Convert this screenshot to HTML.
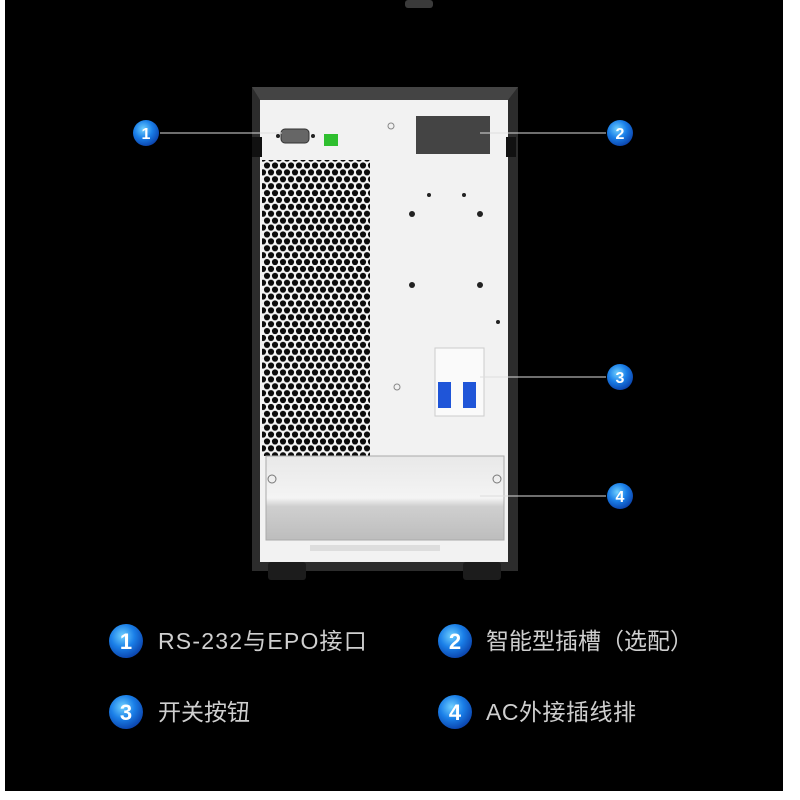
<!DOCTYPE html>
<html><head><meta charset="utf-8"><style>
body{margin:0;background:#fff;width:800px;height:800px;overflow:hidden;position:relative;font-family:"Liberation Sans","Noto Sans CJK SC",sans-serif}
.t{position:absolute;color:#cfcfcf;font-size:23px;line-height:30px}
</style></head><body>
<svg width="800" height="800" style="position:absolute;left:0;top:0">
<defs>
<pattern id="hex" width="8" height="13.8" patternUnits="userSpaceOnUse" x="263" y="162">
<circle cx="4" cy="3.45" r="3.1" fill="#0c0c0c"/><circle cx="0" cy="10.35" r="3.1" fill="#0c0c0c"/><circle cx="8" cy="10.35" r="3.1" fill="#0c0c0c"/>
</pattern>
<radialGradient id="bl" cx="0.4" cy="0.35" r="0.7"><stop offset="0" stop-color="#6fd0ff"/><stop offset="0.5" stop-color="#1a7fe8"/><stop offset="1" stop-color="#0a3fa8"/></radialGradient>
<linearGradient id="cov" x1="0" y1="0" x2="0" y2="1"><stop offset="0" stop-color="#e8e8e8"/><stop offset="0.5" stop-color="#f4f4f4"/><stop offset="0.6" stop-color="#cfcfcf"/><stop offset="1" stop-color="#bdbdbd"/></linearGradient>
</defs>
<rect x="5" y="0" width="778" height="791" fill="#000"/>
<rect x="405" y="0" width="28" height="8" rx="3" fill="#3a3a3a"/>
<rect x="252" y="87" width="266" height="484" fill="#2c2c2c"/>
<polygon points="252,87 518,87 508,100 260,100" fill="#444"/>
<rect x="260" y="100" width="248" height="462" fill="#f2f2f2"/>
<rect x="252" y="137" width="10" height="20" fill="#111"/>
<rect x="506" y="137" width="10" height="20" fill="#111"/>
<rect x="262" y="160" width="108" height="296" fill="#f5f5f5"/>
<rect x="262" y="160" width="108" height="296" fill="url(#hex)"/>
<rect x="281" y="129" width="28" height="14" rx="4" fill="#666" stroke="#333"/>
<circle cx="278" cy="136" r="2" fill="#222"/><circle cx="313" cy="136" r="2" fill="#222"/>
<rect x="324" y="134" width="14" height="12" fill="#2fbf2f"/>
<circle cx="391" cy="126" r="3" fill="none" stroke="#888"/>
<rect x="416" y="116" width="74" height="38" fill="#444"/>
<circle cx="429" cy="195" r="2" fill="#222"/><circle cx="464" cy="195" r="2" fill="#222"/>
<circle cx="412" cy="214" r="3" fill="#222"/><circle cx="480" cy="214" r="3" fill="#222"/>
<circle cx="412" cy="285" r="3" fill="#222"/><circle cx="480" cy="285" r="3" fill="#222"/>
<circle cx="498" cy="322" r="2" fill="#222"/>
<rect x="435" y="348" width="49" height="68" fill="#fafafa" stroke="#ccc"/>
<rect x="438" y="382" width="13" height="26" fill="#1f55d8"/>
<rect x="463" y="382" width="13" height="26" fill="#1f55d8"/>
<circle cx="397" cy="387" r="3" fill="none" stroke="#888"/>
<rect x="266" y="456" width="238" height="84" fill="url(#cov)" stroke="#aaa"/>
<circle cx="272" cy="479" r="4" fill="none" stroke="#777"/><circle cx="497" cy="479" r="4" fill="none" stroke="#777"/>
<rect x="310" y="545" width="130" height="6" fill="#ddd"/>
<rect x="268" y="562" width="38" height="18" rx="3" fill="#1c1c1c"/>
<rect x="463" y="562" width="38" height="18" rx="3" fill="#1c1c1c"/>
<g stroke="#ddd" stroke-width="1">
<line x1="160" y1="133" x2="282" y2="133"/>
<line x1="480" y1="133" x2="606" y2="133"/>
<line x1="480" y1="377" x2="606" y2="377"/>
<line x1="480" y1="496" x2="606" y2="496"/>
</g>
<g font-family="Liberation Sans" font-weight="bold" fill="#fff" text-anchor="middle">
<circle cx="146" cy="133" r="13" fill="url(#bl)"/><text x="146" y="139" font-size="16">1</text>
<circle cx="620" cy="133" r="13" fill="url(#bl)"/><text x="620" y="139" font-size="16">2</text>
<circle cx="620" cy="377" r="13" fill="url(#bl)"/><text x="620" y="383" font-size="16">3</text>
<circle cx="620" cy="496" r="13" fill="url(#bl)"/><text x="620" y="502" font-size="16">4</text>
<circle cx="126" cy="641" r="17" fill="url(#bl)"/><text x="126" y="649" font-size="22">1</text>
<circle cx="455" cy="641" r="17" fill="url(#bl)"/><text x="455" y="649" font-size="22">2</text>
<circle cx="126" cy="712" r="17" fill="url(#bl)"/><text x="126" y="720" font-size="22">3</text>
<circle cx="455" cy="712" r="17" fill="url(#bl)"/><text x="455" y="720" font-size="22">4</text>
</g>
</svg>
<div class="t" style="left:158px;top:626px;letter-spacing:1.2px">RS-232与EPO接口</div>
<div class="t" style="left:486px;top:626px">智能型插槽（选配）</div>
<div class="t" style="left:158px;top:697px">开关按钮</div>
<div class="t" style="left:486px;top:697px;letter-spacing:0.5px">AC外接插线排</div>
</body></html>
